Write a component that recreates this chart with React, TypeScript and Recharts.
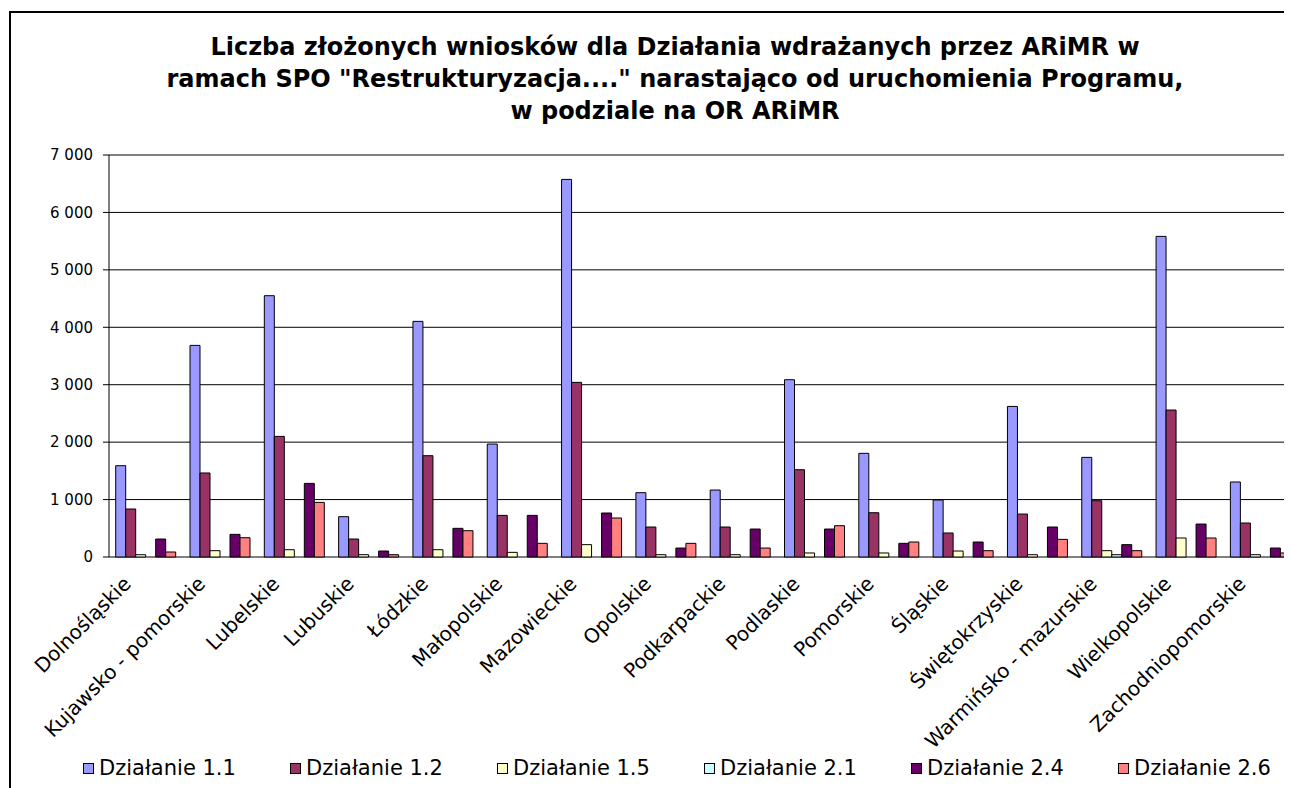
import React from "react";
import { BarChart, Bar, XAxis, YAxis, CartesianGrid, Legend } from "recharts";

const categories = [
  "Dolnośląskie",
  "Kujawsko - pomorskie",
  "Lubelskie",
  "Lubuskie",
  "Łódzkie",
  "Małopolskie",
  "Mazowieckie",
  "Opolskie",
  "Podkarpackie",
  "Podlaskie",
  "Pomorskie",
  "Śląskie",
  "Świętokrzyskie",
  "Warmińsko - mazurskie",
  "Wielkopolskie",
  "Zachodniopomorskie",
];

const d11 = [1590, 3685, 4550, 702, 4103, 1967, 6575, 1120, 1166, 3087, 1805, 992, 2622, 1735, 5583, 1306];
const d12 = [836, 1463, 2100, 313, 1764, 725, 3041, 522, 522, 1520, 771, 418, 748, 980, 2559, 592];
const d15 = [40, 110, 127, 40, 127, 81, 215, 40, 40, 70, 70, 104, 40, 110, 331, 40];
const d21 = [0, 0, 0, 0, 0, 0, 0, 0, 0, 0, 0, 0, 0, 40, 0, 0];
const d24 = [313, 394, 1282, 104, 499, 725, 766, 156, 487, 487, 238, 261, 522, 215, 574, 156];
const d26 = [87, 336, 951, 40, 458, 238, 679, 238, 156, 545, 261, 110, 307, 110, 331, 70];

const yTicks = [0, 1000, 2000, 3000, 4000, 5000, 6000, 7000];
const boundaryTicks = categories.map((_, i) => i).concat([categories.length]);

const series = [
  { key: "d11", name: "Działanie 1.1", color: "#9999FF" },
  { key: "d12", name: "Działanie 1.2", color: "#993366" },
  { key: "d15", name: "Działanie 1.5", color: "#FFFFCC" },
  { key: "d21", name: "Działanie 2.1", color: "#CCFFFF" },
  { key: "d24", name: "Działanie 2.4", color: "#660066" },
  { key: "d26", name: "Działanie 2.6", color: "#FF8080" },
];

const data = categories.map((name, i) => ({
  name,
  d11: d11[i],
  d12: d12[i],
  d15: d15[i],
  d21: d21[i],
  d24: d24[i],
  d26: d26[i],
}));

const FONT = "'DejaVu Sans', sans-serif";

const fmt = (v: number) => String(v).replace(/\B(?=(\d{3})+(?!\d))/g, " ");

const CategoryTick = (props: any) => {
  const { x, y, payload } = props;
  return (
    <text
      transform={`translate(${x - 14},${y + 28}) rotate(-45)`}
      textAnchor="end"
      fontFamily={FONT}
      fontSize={20}
      fill="#000"
    >
      {payload.value}
    </text>
  );
};

const renderLegend = () => (
  <div style={{ display: "flex", fontFamily: FONT, fontSize: 21, color: "#000", height: 40, alignItems: "center" }}>
    {series.map((s) => (
      <div key={s.key} style={{ width: 207, display: "flex", alignItems: "center" }}>
        <span
          style={{
            display: "inline-block",
            width: 9,
            height: 9,
            background: s.color,
            border: "1px solid #000",
            marginRight: 5,
          }}
        />
        <span>{s.name}</span>
      </div>
    ))}
  </div>
);

export default function App() {
  return (
    <div style={{ position: "relative", width: 1284, height: 780, overflow: "hidden", background: "#fff" }}>
      <div
        style={{
          position: "absolute",
          left: 1,
          top: 3,
          width: 1400,
          height: 900,
          border: "2px solid #000",
        }}
      />
      <div
        style={{
          position: "absolute",
          left: 0,
          top: 23,
          width: 1334,
          textAlign: "center",
          fontFamily: FONT,
          fontWeight: "bold",
          fontSize: 24,
          lineHeight: "32px",
          color: "#000",
        }}
      >
        Liczba złożonych wniosków dla Działania wdrażanych przez ARiMR w
        <br />
        ramach SPO "Restrukturyzacja...." narastająco od uruchomienia Programu,
        <br />
        w podziale na OR ARiMR
      </div>
      <div style={{ position: "absolute", left: 0, top: 0 }}>
        <BarChart
          width={1300}
          height={780}
          data={data}
          margin={{ top: 147, right: 10, left: 0, bottom: 0 }}
          barCategoryGap="9%"
          barGap={0}
        >
          <CartesianGrid vertical={false} stroke="#000" strokeWidth={1} />
          <XAxis
            xAxisId="bounds"
            type="number"
            domain={[0, categories.length]}
            ticks={boundaryTicks}
            allowDataOverflow
            height={0}
            tick={() => <g />}
            tickSize={7}
            tickLine={{ stroke: "#000" }}
            axisLine={{ stroke: "#000" }}
          />
          <XAxis
            dataKey="name"
            interval={0}
            height={191}
            tickLine={false}
            axisLine={false}
            tickSize={0}
            tickMargin={0}
            tick={<CategoryTick />}
          />
          <YAxis
            width={101}
            domain={[0, 7000]}
            ticks={yTicks}
            tickFormatter={fmt}
            tickSize={6}
            tickMargin={10}
            tickLine={{ stroke: "#000" }}
            axisLine={{ stroke: "#000" }}
            tick={{ fill: "#000", fontFamily: FONT, fontSize: 15 }}
          />
          <Legend
            verticalAlign="bottom"
            height={40}
            content={renderLegend}
            wrapperStyle={{ left: 75, width: 1250 }}
          />
          {series.map((s) => (
            <Bar
              key={s.key}
              dataKey={s.key}
              name={s.name}
              fill={s.color}
              stroke="#000"
              strokeWidth={1}
              isAnimationActive={false}
            />
          ))}
        </BarChart>
      </div>
    </div>
  );
}
